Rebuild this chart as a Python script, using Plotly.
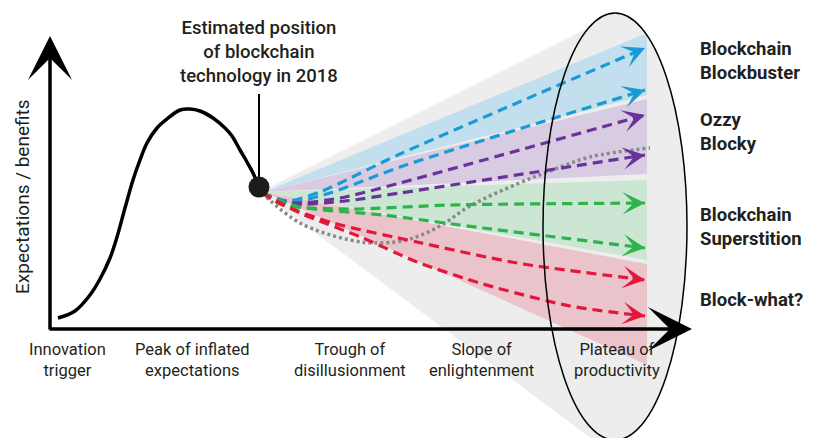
import math
import plotly.graph_objects as go

# hype curve (pixel-like coordinates, y grows downwards)
hype_x = [58, 75, 90, 100, 110, 117, 125, 133, 140, 147, 157, 167, 180, 190, 200, 213, 225, 232, 240, 247, 253, 259]
hype_y = [318, 311, 295, 279, 258, 237, 208, 180, 160, 143, 128, 119, 110, 109, 111, 118, 128, 136, 150, 162, 173, 187]

# position of blockchain in 2018
dot_x = [259]
dot_y = [187]

# scenario bands (right end) and their labels
scenario_labels = ["Blockchain<br>Blockbuster", "Ozzy<br>Blocky", "Blockchain<br>Superstition", "Block-what?"]
scenario_label_y = [61, 132, 227, 300]
band_top = [33, 99, 180, 264]
band_bottom = [95, 174, 260, 365]
band_apex = [264, 192]
band_end_x = 647

# scenario trajectories
blue_hi_x = [262, 288, 320, 400, 645]
blue_hi_y = [193, 201, 192, 154, 48]
blue_lo_x = [262, 290, 330, 400, 645]
blue_lo_y = [193, 202, 193, 167, 90]
purple_hi_x = [262, 290, 340, 400, 645]
purple_hi_y = [193, 203, 198, 183, 115]
purple_lo_x = [262, 290, 345, 400, 645]
purple_lo_y = [193, 204, 201, 193, 155]
green_hi_x = [262, 283, 350, 450, 645]
green_hi_y = [193, 205, 209, 205, 203]
green_lo_x = [262, 300, 383, 483, 645]
green_lo_y = [193, 207, 215, 228, 248]
red_hi_x = [262, 283, 333, 417, 517, 645]
red_hi_y = [193, 205, 223, 242, 263, 280]
red_lo_x = [262, 300, 363, 417, 483, 570, 645]
red_lo_y = [193, 213, 238, 262, 284, 306, 316]

# typical hype-cycle path (grey dotted)
cycle_x = [262, 300, 350, 380, 410, 440, 470, 517, 550, 590, 650]
cycle_y = [193, 223, 240, 243, 239, 226, 206, 184, 171, 157, 148]

# grey cone of possibilities
cone_x = [266, 600, 600, 266]
cone_y = [189, 22, 445, 196]

# x axis phases
phase_labels = ["Innovation<br>trigger", "Peak of inflated<br>expectations", "Trough of<br>disillusionment",
                "Slope of<br>enlightenment", "Plateau of<br>productivity"]
phase_x = [67, 192, 350, 481, 617]

band_colors = ["#c3dfee", "#d8cce2", "#cbe6d3", "#ebc4cb"]
line_colors = ["#1a9ad6", "#6a3399", "#2db34a", "#e2173a"]

FONT = "Roboto"
INK = "#231f20"

fig = go.Figure()

fig.add_trace(go.Scatter(x=cone_x, y=cone_y, fill="toself", fillcolor="#ededed",
                         line=dict(width=0), mode="lines", hoverinfo="skip"))

for i in range(4):
    fig.add_trace(go.Scatter(x=[band_apex[0], band_end_x, band_end_x],
                             y=[band_apex[1], band_top[i], band_bottom[i]],
                             fill="toself", fillcolor=band_colors[i],
                             line=dict(width=0), mode="lines", hoverinfo="skip"))

fig.add_trace(go.Scatter(x=cycle_x, y=cycle_y, mode="lines",
                         line=dict(color="#8a8a8a", width=3.5, dash="3px,3px", shape="spline")))

paths = [(blue_hi_x, blue_hi_y, 0), (blue_lo_x, blue_lo_y, 0),
         (purple_hi_x, purple_hi_y, 1), (purple_lo_x, purple_lo_y, 1),
         (green_hi_x, green_hi_y, 2), (green_lo_x, green_lo_y, 2),
         (red_hi_x, red_hi_y, 3), (red_lo_x, red_lo_y, 3)]

for px, py, c in paths:
    fig.add_trace(go.Scatter(x=px, y=py, mode="lines",
                             line=dict(color=line_colors[c], width=3.2, dash="10px,6px",
                                       shape="spline", smoothing=0.7)))
    # arrow head on the last segment
    dx = px[-1] - px[-2]
    dy = py[-1] - py[-2]
    d = math.hypot(dx, dy)
    fig.add_annotation(x=px[-1], y=py[-1], ax=px[-1] - 14 * dx / d, ay=py[-1] - 14 * dy / d,
                       xref="x", yref="y", axref="x", ayref="y", text="", showarrow=True,
                       arrowhead=3, arrowwidth=3, arrowsize=1.25, arrowcolor=line_colors[c])

# hype curve + leader + dot
fig.add_trace(go.Scatter(x=hype_x, y=hype_y, mode="lines",
                         line=dict(color="black", width=3.5, shape="spline")))
fig.add_trace(go.Scatter(x=[dot_x[0], dot_x[0]], y=[94, dot_y[0]], mode="lines",
                         line=dict(color="black", width=2)))
fig.add_trace(go.Scatter(x=dot_x, y=dot_y, mode="markers",
                         marker=dict(color="#1c1c1c", size=21)))

# plateau ellipse
fig.add_shape(type="circle", xref="x", yref="y", x0=543, x1=687, y0=13, y1=440,
              fillcolor="#ededed", line=dict(width=0), layer="below")
fig.add_shape(type="circle", xref="x", yref="y", x0=543, x1=687, y0=13, y1=440,
              line=dict(color="black", width=1.5), layer="above")

# axes with arrows
fig.add_annotation(x=50, y=36, ax=50, ay=331, xref="x", yref="y", axref="x", ayref="y",
                   text="", showarrow=True, arrowhead=3, arrowwidth=3.5, arrowsize=2.1, arrowcolor="black")
fig.add_annotation(x=692, y=329, ax=48, ay=329, xref="x", yref="y", axref="x", ayref="y",
                   text="", showarrow=True, arrowhead=3, arrowwidth=3.5, arrowsize=2.1, arrowcolor="black")

fig.add_annotation(x=22, y=197, text="Expectations / benefits", textangle=-90, showarrow=False,
                   font=dict(family=FONT, size=19, color=INK))

fig.add_annotation(x=259, y=52, text="Estimated position<br>of blockchain<br>technology in 2018",
                   showarrow=False, font=dict(family=FONT, size=18.5, color=INK, weight=500))

for lbl, x in zip(phase_labels, phase_x):
    fig.add_annotation(x=x, y=360, text=lbl, showarrow=False,
                       font=dict(family=FONT, size=16.5, color=INK))

for lbl, y in zip(scenario_labels, scenario_label_y):
    fig.add_annotation(x=698, y=y, text=lbl, showarrow=False, xanchor="left", align="left",
                       font=dict(family=FONT, size=18.5, color=INK, weight="bold"))

fig.update_layout(width=816, height=438, margin=dict(l=0, r=0, t=0, b=0),
                  showlegend=False, plot_bgcolor="white", paper_bgcolor="white",
                  xaxis=dict(range=[0, 816], visible=False, fixedrange=True),
                  yaxis=dict(range=[438, 0], visible=False, fixedrange=True))

# page has a default 8px body margin, drop it so the figure fills the window
fig.write_html("out.html", config={"displayModeBar": False},
               post_script="document.body.style.margin = '0';")
